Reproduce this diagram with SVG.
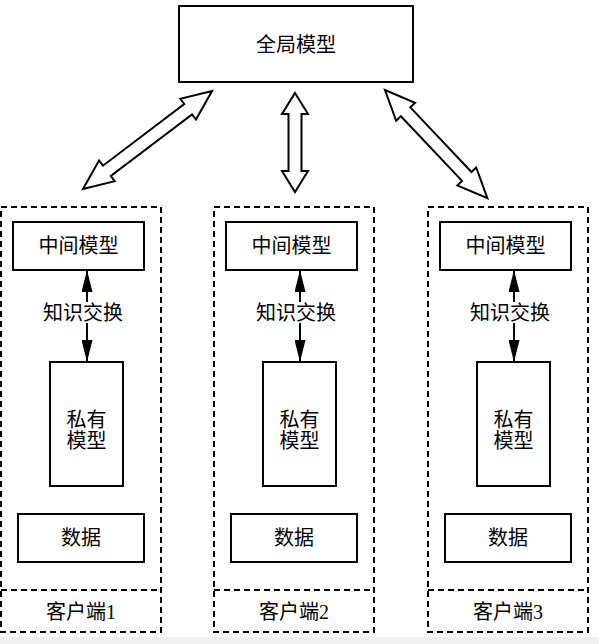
<svg xmlns="http://www.w3.org/2000/svg" width="599" height="644" viewBox="0 0 599 644">
<style>
text{font-family:"Liberation Serif","Noto Sans CJK SC",serif;font-size:20px;fill:#000;text-anchor:middle;dominant-baseline:central}
.box{fill:#fff;stroke:#000;stroke-width:2}
.dash{fill:none;stroke:#000;stroke-width:2;stroke-dasharray:6 4}
.big{fill:#fff;stroke:#000;stroke-width:2;stroke-linejoin:miter}
.link{stroke:#000;stroke-width:2;fill:none}
</style>
<defs>
<marker id="ah" markerUnits="userSpaceOnUse" markerWidth="22" markerHeight="11" refX="22" refY="5.5" orient="auto-start-reverse">
<path d="M0,0 L22,5.5 L0,11 z" fill="#000"/>
</marker>
</defs>
<rect x="0" y="0" width="599" height="644" fill="#fff"/>
<rect x="0" y="637" width="599" height="7" fill="#f1f1f1"/>

<g id="global">
<rect class="box" x="179" y="6" width="234" height="76"/>
<text x="296" y="45">全局模型</text>
</g>

<g id="connectors">
<polygon class="big" transform="translate(83,189) rotate(-37.2)" points="0,0 30,-13 30,-6.5 132,-6.5 132,-13 162,0 132,13 132,6.5 30,6.5 30,13"/>
<polygon class="big" transform="translate(295,93) rotate(90)" points="0,0 21,-13 21,-6.5 78,-6.5 78,-13 99,0 78,13 78,6.5 21,6.5 21,13"/>
<polygon class="big" transform="translate(385,90) rotate(46.6)" points="0,0 30,-13 30,-6.5 119,-6.5 119,-13 149,0 119,13 119,6.5 30,6.5 30,13"/>
<line class="link" x1="87" y1="270" x2="87" y2="302" marker-start="url(#ah)"/>
<line class="link" x1="87" y1="323" x2="87" y2="362" marker-end="url(#ah)"/>
<line class="link" x1="300" y1="270" x2="300" y2="302" marker-start="url(#ah)"/>
<line class="link" x1="300" y1="323" x2="300" y2="362" marker-end="url(#ah)"/>
<line class="link" x1="514" y1="270" x2="514" y2="302" marker-start="url(#ah)"/>
<line class="link" x1="514" y1="323" x2="514" y2="362" marker-end="url(#ah)"/>
</g>

<g id="client1">
<rect class="dash" x="1" y="207" width="160" height="425"/>
<line class="dash" x1="1" y1="590" x2="161" y2="590"/>
<text x="81" y="612">客户端1</text>
<g id="mid1"><rect class="box" x="13" y="222" width="131" height="48"/><text x="78.5" y="246">中间模型</text></g>
<text x="83" y="313">知识交换</text>
<g id="priv1"><rect class="box" x="50" y="362" width="73" height="124"/><text x="86.5" y="420">私有</text><text x="86.5" y="441">模型</text></g>
<g id="data1"><rect class="box" x="18" y="514" width="126" height="48"/><text x="81" y="538">数据</text></g>
</g>

<g id="client2">
<rect class="dash" x="214" y="207" width="160" height="425"/>
<line class="dash" x1="214" y1="590" x2="374" y2="590"/>
<text x="294" y="612">客户端2</text>
<g id="mid2"><rect class="box" x="226" y="222" width="131" height="48"/><text x="291.5" y="246">中间模型</text></g>
<text x="296" y="313">知识交换</text>
<g id="priv2"><rect class="box" x="263" y="362" width="73" height="124"/><text x="299.5" y="420">私有</text><text x="299.5" y="441">模型</text></g>
<g id="data2"><rect class="box" x="231" y="514" width="126" height="48"/><text x="294" y="538">数据</text></g>
</g>

<g id="client3">
<rect class="dash" x="428" y="207" width="160" height="425"/>
<line class="dash" x1="428" y1="590" x2="588" y2="590"/>
<text x="508" y="612">客户端3</text>
<g id="mid3"><rect class="box" x="440" y="222" width="131" height="48"/><text x="505.5" y="246">中间模型</text></g>
<text x="510" y="313">知识交换</text>
<g id="priv3"><rect class="box" x="477" y="362" width="73" height="124"/><text x="513.5" y="420">私有</text><text x="513.5" y="441">模型</text></g>
<g id="data3"><rect class="box" x="445" y="514" width="126" height="48"/><text x="508" y="538">数据</text></g>
</g>
</svg>
